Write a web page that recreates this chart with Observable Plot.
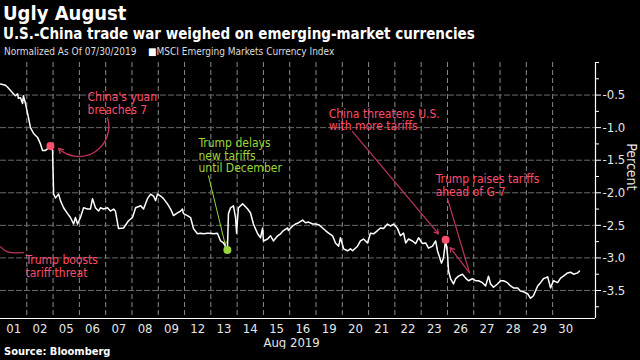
<!DOCTYPE html>
<html>
<head>
<meta charset="utf-8">
<script src="https://cdn.jsdelivr.net/npm/d3@7"></script>
<script src="https://cdn.jsdelivr.net/npm/@observablehq/plot@0.6"></script>
<style>
  html, body { margin: 0; padding: 0; background: #000; }
  body { width: 640px; height: 360px; overflow: hidden; position: relative;
         font-family: "DejaVu Sans", sans-serif; font-stretch: condensed; color: #fff; }
  #head { position: relative; height: 60px; }
  #title { position: absolute; left: 3px; top: 2px; font-size: 20px; font-weight: bold; line-height: 22px; }
  #subtitle { position: absolute; left: 3px; top: 25px; font-size: 15px; font-weight: bold; line-height: 18px; }
  #legend { position: absolute; left: 4px; top: 46px; font-size: 10px; line-height: 12px; color: #ddd; white-space: pre; }
  #foot { position: absolute; left: 4px; top: 345px; font-size: 11px; font-weight: bold; line-height: 13px; }
  svg { display: block; }
</style>
</head>
<body>
<div id="head">
  <div id="title"></div>
  <div id="subtitle"></div>
  <div id="legend"></div>
</div>
<div id="chart"></div>
<div id="foot"></div>
<script>
// ---- text ----
const titleText = "Ugly August";
const subtitleText = "U.S.-China trade war weighed on emerging-market currencies";
const legendNote = "Normalized As Of 07/30/2019";
const seriesName = "MSCI Emerging Markets Currency Index";
const sourceText = "Source: Bloomberg";
const monthLabel = "Aug 2019";
const yLabel = "Percent";

// ---- x categories: trading days of August 2019 ----
const days = ["01","02","05","06","07","08","09","12","13","14","15","16","19","20","21","22","23","26","27","28","29","30"];

// ---- series: position in trading days (day index + fraction of day) and percent change ----
const t = [0,0.19,0.27,0.38,0.49,0.57,0.65,0.68,0.76,0.84,0.87,0.95,1.03,1.14,1.26,1.41,1.52,1.60,1.71,1.83,1.90,1.98,
  2.02,2.09,2.21,2.28,2.40,2.55,2.66,2.78,2.85,2.93,3.04,3.16,3.31,3.42,3.50,3.61,3.73,3.80,3.92,4.07,4.18,4.30,4.37,
  4.49,4.68,4.87,5.02,5.14,5.33,5.44,5.59,5.71,5.82,5.90,5.97,6.09,6.20,6.35,6.47,6.58,6.73,6.85,6.92,6.96,7.11,7.23,
  7.34,7.49,7.61,7.72,7.87,7.99,8.10,8.25,8.37,8.48,8.63,8.67,8.75,8.86,8.94,8.98,9.01,9.05,9.21,9.40,9.51,9.62,9.78,
  9.89,9.97,10.00,10.16,10.27,10.38,10.54,10.65,10.76,10.92,10.95,11.11,11.22,11.34,11.49,11.60,11.72,11.87,11.98,
  12.10,12.25,12.36,12.48,12.63,12.74,12.86,12.93,13.05,13.20,13.31,13.39,13.58,13.69,13.81,13.96,14.07,14.19,14.34,
  14.45,14.57,14.72,14.83,14.95,15.10,15.21,15.33,15.41,15.52,15.67,15.79,15.90,16.05,16.17,16.28,16.43,16.55,16.62,
  16.66,16.77,16.85,16.93,17.00,17.04,17.12,17.23,17.31,17.42,17.57,17.69,17.80,17.95,18.07,18.18,18.33,18.45,18.56,
  18.64,18.75,18.90,19.02,19.13,19.28,19.40,19.51,19.67,19.78,19.89,20.05,20.16,20.27,20.43,20.54,20.65,20.81,20.92,
  21.03,21.19,21.30,21.41,21.57,21.68,21.80,21.95,22.02];
const pct = [-0.33,-0.35,-0.38,-0.43,-0.48,-0.51,-0.48,-0.55,-0.54,-0.63,-0.51,-0.63,-0.78,-1.00,-1.09,-1.15,-1.25,-1.35,-1.35,-1.31,-1.28,-1.35,
  -2.02,-2.08,-2.02,-2.12,-2.23,-2.32,-2.38,-2.48,-2.38,-2.48,-2.38,-2.23,-2.25,-2.25,-2.09,-2.23,-2.28,-2.23,-2.25,-2.23,-2.28,-2.25,-2.28,
  -2.55,-2.54,-2.43,-2.38,-2.23,-2.20,-2.25,-2.09,-2.02,-2.05,-2.12,-2.02,-2.05,-2.09,-2.17,-2.25,-2.35,-2.31,-2.28,-2.25,-2.32,-2.35,-2.38,
  -2.55,-2.63,-2.62,-2.63,-2.62,-2.62,-2.63,-2.62,-2.74,-2.77,-2.88,-2.32,-2.23,-2.20,-2.38,-2.62,-2.43,-2.23,-2.17,-2.25,-2.31,-2.48,-2.63,
  -2.69,-2.54,-2.74,-2.71,-2.66,-2.74,-2.66,-2.63,-2.58,-2.54,-2.58,-2.51,-2.48,-2.46,-2.42,-2.46,-2.45,-2.48,-2.48,
  -2.49,-2.54,-2.58,-2.62,-2.66,-2.77,-2.82,-2.69,-2.86,-2.89,-2.86,-2.89,-2.82,-2.74,-2.71,-2.77,-2.62,-2.63,-2.58,
  -2.54,-2.55,-2.48,-2.51,-2.48,-2.55,-2.66,-2.62,-2.77,-2.71,-2.74,-2.78,-2.69,-2.78,-2.77,-2.85,-2.82,-2.74,-2.89,
  -2.94,-3.08,-3.00,-2.72,-2.94,-3.20,-3.32,-3.40,-3.32,-3.28,-3.25,-3.31,-3.35,-3.32,-3.35,-3.35,-3.38,-3.43,-3.28,
  -3.40,-3.45,-3.40,-3.35,-3.35,-3.38,-3.43,-3.46,-3.46,-3.51,-3.52,-3.55,-3.62,-3.58,-3.43,-3.38,-3.32,-3.29,-3.46,
  -3.35,-3.38,-3.31,-3.28,-3.23,-3.22,-3.25,-3.23,-3.20];

// ---- y axis ticks ----
const yTicks = [-0.5,-1.0,-1.5,-2.0,-2.5,-3.0,-3.5];
const yMinor = [0,-0.25,-0.75,-1.25,-1.75,-2.25,-2.75,-3.25,-3.75];

// ---- event annotations ----
const noteTexts = ["China's yuan\nbreaches 7", "Trump delays\nnew tariffs\nuntil December", "China threatens U.S.\nwith more tariffs", "Trump raises tariffs\nahead of G-7", "Trump boosts\ntariff threat"];
const eventT = [1.90, 8.63, 16.93]; // series points marked with dots
</script>
<script>
const series = t.map((d, i) => ({t: d, v: pct[i]}));
const xMax = 22.63, yMin = -3.93;
const pink = "#ff4d6d", pinkLine = "#c0365a", green = "#9bd63a";

document.getElementById("title").textContent = titleText;
document.getElementById("subtitle").textContent = subtitleText;
document.getElementById("legend").innerHTML = legendNote + "    <span style='color:#fff'>\u25A0</span>" + seriesName;
document.getElementById("foot").textContent = sourceText;

// annotation layout (data units)
const notes = [
  {text: noteTexts[0], x: 3.31, y: -0.63, c: pink},
  {text: noteTexts[1], x: 7.53, y: -1.43, c: green},
  {text: noteTexts[2], x: 12.48, y: -0.88, c: pink},
  {text: noteTexts[3], x: 16.55, y: -1.89, c: pink},
  {text: noteTexts[4], x: 0.95, y: -3.13, c: pink}
];
const dots = eventT.map((et, k) => { const i = t.indexOf(et); return {t: t[i], v: pct[i], c: k === 1 ? green : pink}; });

const fontFam = "DejaVu Sans, sans-serif";
const chart = Plot.plot({
  width: 640, height: 289,
  marginLeft: 0, marginRight: 45, marginTop: 2, marginBottom: 31,
  style: {background: "black", color: "white", fontFamily: fontFam, fontSize: "13px", fontStretch: "condensed"},
  x: {domain: [0, xMax]},
  y: {domain: [yMin, 0]},
  marks: [
    Plot.gridX(d3.range(1, days.length), {stroke: "#8a8a8a", strokeOpacity: 1, strokeDasharray: "5,3"}),
    Plot.gridY(yTicks, {stroke: "#6a6a6a", strokeOpacity: 1, strokeDasharray: "6,2"}),
    Plot.ruleY([yMin], {stroke: "white", strokeWidth: 1.2}),
    Plot.ruleX([xMax], {stroke: "white", strokeWidth: 1.2}),
    Plot.axisX(days.map((d, i) => i + 0.5), {tickSize: 0, tickPadding: 5, tickFormat: d => days[Math.floor(d)], label: null, fill: "#e6e6e6", fontSize: 13}),
    Plot.text([monthLabel], {x: 11.07, frameAnchor: "bottom", dy: 28, fill: "#e6e6e6", fontSize: 13}),
    Plot.axisY(yTicks, {anchor: "right", tickSize: 5, tickPadding: 2, tickFormat: d => d.toFixed(1), label: null, fontSize: 13, fill: "#e6e6e6"}),
    Plot.axisY(yMinor, {anchor: "right", tickSize: 3, tickFormat: () => "", label: null}),
    Plot.text([yLabel], {frameAnchor: "right", dx: 36, rotate: 90, fontSize: 14, fill: "#e6e6e6"}),
    // annotation connectors
    Plot.arrow([{x1: 4.07, y1: -0.85, x2: 2.21, y2: -1.32}], {x1: "x1", y1: "y1", x2: "x2", y2: "y2", stroke: pinkLine, bend: 75, headLength: 6, strokeWidth: 1.3}),
    Plot.arrow([{x1: 7.91, y1: -1.74, x2: 8.55, y2: -2.80}], {x1: "x1", y1: "y1", x2: "x2", y2: "y2", stroke: green, bend: 0, headLength: 5, strokeWidth: 1}),
    Plot.arrow([{x1: 13.39, y1: -1.06, x2: 16.66, y2: -2.63}], {x1: "x1", y1: "y1", x2: "x2", y2: "y2", stroke: pinkLine, bend: 0, headLength: 6, strokeWidth: 1.2}),
    Plot.link([{x1: 17.0, y1: -2.09, x2: 17.84, y2: -3.23}], {x1: "x1", y1: "y1", x2: "x2", y2: "y2", stroke: pinkLine, strokeWidth: 1.2}),
    Plot.arrow([{x1: 17.84, y1: -3.23, x2: 17.1, y2: -2.84}], {x1: "x1", y1: "y1", x2: "x2", y2: "y2", stroke: pinkLine, bend: 0, headLength: 6, strokeWidth: 1.2}),
    Plot.line([{x: 0, y: -2.83}, {x: 0.3, y: -2.91}, {x: 0.87, y: -2.92}], {x: "x", y: "y", stroke: pinkLine, curve: "natural", strokeWidth: 1.2}),
    // series
    Plot.line(series, {x: "t", y: "v", stroke: "white", strokeWidth: 1.5}),
    Plot.dot(dots, {x: "t", y: "v", fill: d => d.c, r: 4, stroke: null}),
    // annotation texts
    Plot.text(notes.filter(d => d.c === pink), {x: "x", y: "y", text: "text", fill: pink, textAnchor: "start", lineAnchor: "middle", fontSize: 12, lineHeight: 1.05}),
    Plot.text(notes.filter(d => d.c === green), {x: "x", y: "y", text: "text", fill: green, textAnchor: "start", lineAnchor: "middle", fontSize: 12, lineHeight: 1.05})
  ]
});
document.getElementById("chart").appendChild(chart);
</script>
</body>
</html>
